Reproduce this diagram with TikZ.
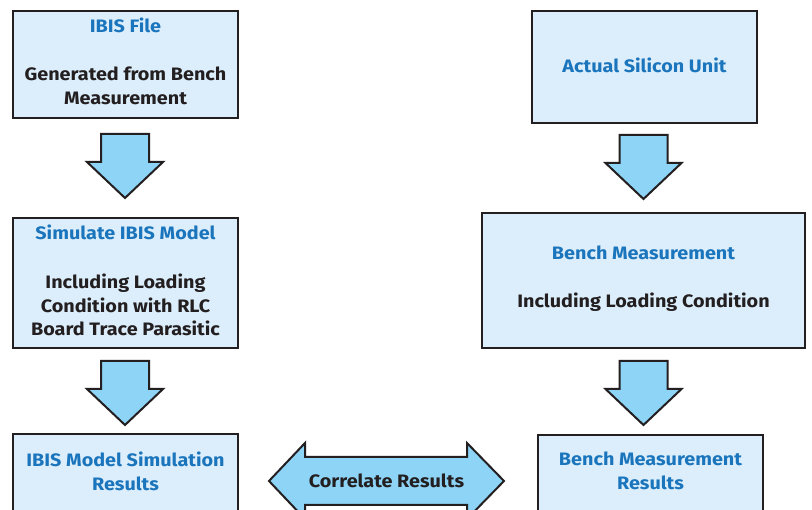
\documentclass[tikz,border=0pt]{standalone}
\usepackage{fontspec}
\setmainfont[FakeStretch=1.1]{Fira Sans}
\usetikzlibrary{calc}
\definecolor{boxfill}{HTML}{DCEEFB}
\definecolor{edgec}{HTML}{231F20}
\definecolor{titleblue}{HTML}{1B75BC}
\definecolor{arrowfill}{HTML}{8DD4F6}
\tikzset{
  box/.style={draw=edgec, line width=2.5pt, fill=boxfill, outer sep=0pt, inner sep=0pt},
  ttl/.style={text=titleblue, font=\bfseries\fontsize{18}{24}\selectfont, align=center, inner sep=0pt},
  bodytxt/.style={text=edgec, font=\bfseries\fontsize{18}{23.5}\selectfont, align=center, inner sep=0pt},
  blockarrow/.style={draw=edgec, line width=2pt, fill=arrowfill, line join=miter},
  downarr/.pic={\draw[blockarrow] (-24,0) -- (24,0) -- (24,28) -- (38,28) -- (0,64) -- (-38,28) -- (-24,28) -- cycle;}
}
\begin{document}
\begin{tikzpicture}[x=1pt,y=-1pt]
\useasboundingbox (0,0) rectangle (812,510);
\clip (0,0) rectangle (812,510);
\fill[white] (0,0) rectangle (812,510);
% boxes
\node[box, minimum width=225pt, minimum height=107pt] (b1) at (125.5,64.5) {};
\node[box, minimum width=225pt, minimum height=112pt] (b2) at (644.5,67) {};
\node[box, minimum width=225pt, minimum height=130pt] (b3) at (125.5,283) {};
\node[box, minimum width=323pt, minimum height=135pt] (b4) at (643.5,280.5) {};
\node[box, minimum width=225pt, minimum height=100pt] (b5) at (125.5,484) {};
\node[box, minimum width=225pt, minimum height=100pt] (b6) at (650.5,485) {};
% texts
\node[ttl] (t1) at (125.5,25) {IBIS File};
\node[bodytxt] (s1) at (125.5,86) {Generated from Bench\\Measurement};
\node[ttl] (t2) at (644.5,65) {Actual Silicon Unit};
\node[ttl] (t3) at (125.5,232) {Simulate IBIS Model};
\node[bodytxt] (s3) at (125.5,305) {Including Loading\\Condition with RLC\\Board Trace Parasitic};
\node[ttl] (t4) at (643.5,253) {Bench Measurement};
\node[bodytxt] (s4) at (643.5,302) {Including Loading Condition};
\node[ttl] (t5) at (125.5,471) {IBIS Model Simulation\\Results};
\node[ttl] (t6) at (650.5,471) {Bench Measurement\\Results};
% down arrows
\pic at (125,134) {downarr};
\pic at (643.5,135) {downarr};
\pic at (125,361) {downarr};
\pic at (643.5,361) {downarr};
% double arrow
\draw[blockarrow] (269,481) -- (305,443) -- (305,457) -- (467,457) -- (467,443) -- (504,481)
  -- (467,519) -- (467,505) -- (305,505) -- (305,519) -- cycle;
\node[bodytxt] (cr) at (386.5,481) {Correlate Results};
\end{tikzpicture}
\end{document}
